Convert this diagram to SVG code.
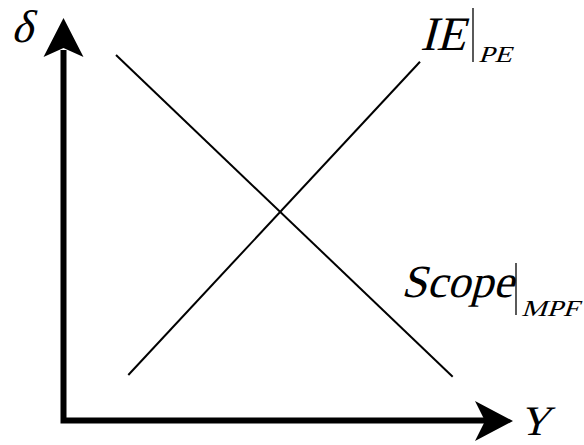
<svg xmlns="http://www.w3.org/2000/svg" width="584" height="445" viewBox="0 0 584 445">
<style>
.axis{fill:none;stroke:#000;stroke-width:6;stroke-linejoin:miter}
.curve{fill:none;stroke:#000;stroke-width:2}
.head{fill:#000;stroke:none}
.lbl{font-family:"Liberation Serif","Times New Roman",serif;font-style:normal;fill:#000}
.bar{stroke:#000;stroke-width:1.3}
</style>
<rect width="584" height="445" fill="#fff"/>
<g id="connectors">
<path class="axis" d="M63.5,50 L63.5,420.5 L490,420.5"/>
<polygon class="head" points="63.5,18 83.5,57 63.5,48 43.5,57"/>
<polygon class="head" points="513,421 475,441 485,421 475,401"/>
<line class="curve" x1="116" y1="55" x2="452.7" y2="376.7"/>
<line class="curve" x1="128.3" y1="375" x2="420" y2="61.7"/>
</g>
<g id="label-delta"><text class="lbl" transform="translate(11,42) skewX(-15)" font-size="46">δ</text></g>
<g id="label-Y"><text class="lbl" transform="translate(519,435) skewX(-15)" font-size="42">Y</text></g>
<g id="label-IE">
<text class="lbl" transform="translate(420,50) skewX(-15)" font-size="48">IE</text>
<line class="bar" x1="473" y1="8" x2="473" y2="62"/>
<text class="lbl" transform="translate(478,62) scale(1.25,1) skewX(-15)" font-size="23">PE</text>
</g>
<g id="label-Scope">
<text class="lbl" transform="translate(401,297) skewX(-15)" font-size="46">Scope</text>
<line class="bar" x1="516" y1="263" x2="516" y2="315"/>
<text class="lbl" transform="translate(521,316) scale(1.25,1) skewX(-15)" font-size="23">MPF</text>
</g>
</svg>
